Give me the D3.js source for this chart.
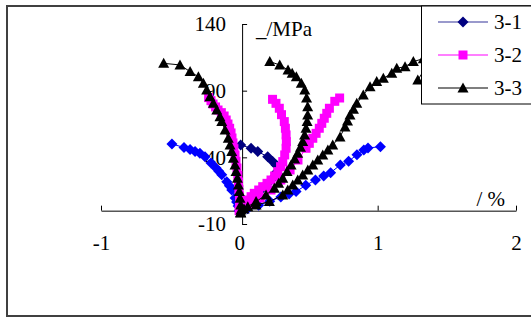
<!DOCTYPE html>
<html>
<head>
<meta charset="utf-8">
<script src="https://cdn.jsdelivr.net/npm/d3@7"></script>
<style>
  html, body { margin: 0; padding: 0; background: #fff; }
  svg { display: block; }
</style>
</head>
<body>
<div id="chart"></div>
<script>
// tick values and names
const xTicks = [-1, 0, 1, 2];
const yTicks = [-10, 40, 90, 140];
const seriesNames = ['3-1', '3-2', '3-3'];

// 3-1 : [strain %, stress MPa]
const s31Lateral = [[0, 0], [-0.009, 3.5], [-0.02, 6.5], [-0.031, 9.5], [-0.055, 15.5], [-0.072, 18.7], [-0.091, 21.7],
  [-0.127, 27], [-0.148, 29.5], [-0.168, 32], [-0.205, 35.8], [-0.248, 40.5], [-0.285, 43], [-0.32, 44.4],
  [-0.356, 45.9], [-0.40, 47.4], [-0.487, 50]];
const s31Volume = [[0, 0], [0.02, 3], [0.06, 7], [0.11, 12], [0.17, 17], [0.23, 23], [0.27, 29],
  [0.265, 34.3], [0.241, 36.8], [0.205, 40.5], [0.133, 44.3], [0.085, 46.8], [0.01, 49.3]];
const s31Axial = [[0, 0], [0.06, 1.5], [0.14, 4], [0.22, 7], [0.30, 10.3], [0.36, 12.5], [0.41, 14.3], [0.48, 19],
  [0.55, 23], [0.61, 26], [0.66, 28.5], [0.73, 34.3], [0.79, 37], [0.85, 42], [0.90, 45.5], [0.93, 47], [1.02, 48]];

// 3-2
const s32Lateral = [[0, 0], [0.001, 5.5], [0.001, 11], [-0.003, 16], [-0.006, 21.5], [-0.011, 26.5], [-0.017, 32],
  [-0.024, 37], [-0.031, 41.8], [-0.039, 46.5], [-0.046, 50.8], [-0.053, 54.5], [-0.06, 58.3], [-0.07, 61.8],
  [-0.082, 65], [-0.095, 68], [-0.11, 71], [-0.13, 73.5], [-0.154, 75.5], [-0.172, 77.8], [-0.19, 80],
  [-0.205, 82.5], [-0.222, 84.8]];
const s32Volume = [[0, 0], [0.025, 4.3], [0.043, 6.2], [0.061, 8], [0.085, 10.5], [0.108, 13], [0.14, 15.5],
  [0.169, 18], [0.2, 20.5], [0.229, 23], [0.255, 26], [0.278, 29.3], [0.298, 33], [0.314, 36.8], [0.328, 41.8],
  [0.338, 46.8], [0.34, 51.8], [0.338, 56.8], [0.333, 61.8], [0.325, 66.8], [0.305, 72], [0.289, 76.8],
  [0.265, 80.5], [0.24, 83.5]];
const s32Axial = [[0, 0], [0.027, 2], [0.077, 5], [0.15, 9.5], [0.229, 15.5], [0.30, 23], [0.367, 30.5],
  [0.424, 38], [0.482, 46.8], [0.506, 50.5], [0.531, 54.3], [0.555, 58], [0.578, 61.8], [0.596, 65.5],
  [0.614, 69.3], [0.632, 73], [0.651, 76.8], [0.69, 82], [0.725, 84.5]];

// 3-3
const s33Lateral = [[0.01, -1.5], [0.01, 4.3], [0.005, 9.3], [0, 14.3], [-0.007, 19.3], [-0.014, 24.3],
  [-0.024, 29.3], [-0.031, 34.3], [-0.043, 39.3], [-0.055, 44.3], [-0.067, 49.3], [-0.08, 54.3],
  [-0.103, 60.5], [-0.127, 66.8], [-0.14, 70.5], [-0.163, 75.5], [-0.188, 80.5], [-0.212, 85.5],
  [-0.236, 90.5], [-0.26, 95.5], [-0.296, 100.5], [-0.356, 104.3], [-0.429, 109.3], [-0.547, 110.5]];
const s33Volume = [[0.01, -1.5], [0.012, 0.5], [0.061, 3], [0.121, 6.8], [0.193, 11.8], [0.253, 16.8],
  [0.284, 20.5], [0.314, 24.3], [0.345, 29.3], [0.374, 34.3], [0.4, 38.8], [0.422, 43], [0.442, 47.5],
  [0.458, 51.8], [0.472, 56.8], [0.482, 61.8], [0.49, 66.8], [0.494, 71.8], [0.494, 78], [0.486, 84.5],
  [0.473, 90.5], [0.448, 95.5], [0.412, 100.5], [0.382, 103], [0.352, 105.5], [0.292, 109.3], [0.22, 111.8]];
const s33Axial = [[0.01, -1.5], [0.034, 1.3], [0.121, 4.3], [0.217, 6.8], [0.314, 11.8], [0.35, 15.5], [0.386, 19.3],
  [0.422, 23], [0.458, 26.8], [0.495, 30.5], [0.531, 34.3], [0.567, 38], [0.603, 41.8], [0.64, 45.5], [0.675, 49.3],
  [0.728, 55.3], [0.764, 62.8], [0.782, 67.3], [0.80, 71.8], [0.825, 76], [0.849, 80.5], [0.896, 86.8], [0.945, 93],
  [0.993, 96.8], [1.041, 99.3], [1.102, 103], [1.138, 106.8], [1.198, 108], [1.258, 111.8], [1.33, 114],
  [1.40, 116], [1.29, 98]];

const series = [
  { name: seriesNames[0], shape: 'diamond', color: '#000080', line: '#35359a', branches: [
    { pts: s31Lateral, color: '#0000ff' }, { pts: s31Volume, color: '#000080' }, { pts: s31Axial, color: '#0000ff' }] },
  { name: seriesNames[1], shape: 'square', color: '#ff00ff', line: '#ff00ff', branches: [
    { pts: s32Lateral, color: '#ff00ff' }, { pts: s32Volume, color: '#ff00ff' }, { pts: s32Axial, color: '#ff00ff' }] },
  { name: seriesNames[2], shape: 'triangle', color: '#000000', line: '#000000', branches: [
    { pts: s33Lateral, color: '#000000' }, { pts: s33Volume, color: '#000000' }, { pts: s33Axial, color: '#000000' }] }
];

const font = "'Liberation Serif', 'Times New Roman', serif";
const yAxisAt = 0.02; // value axis crosses a bit right of zero

const svg = d3.select('#chart')
  .append('svg')
  .attr('width', 531)
  .attr('height', 320);

// outer frame
svg.append('rect')
  .attr('x', 7).attr('y', 6)
  .attr('width', 560).attr('height', 310)
  .attr('fill', '#fff')
  .attr('stroke', '#404040')
  .attr('stroke-width', 2);

const x = d3.scaleLinear().domain([-1, 2]).range([101, 516]);
const y = d3.scaleLinear().domain([-10, 140]).range([224, 24]);

function markerPath(shape) {
  if (shape === 'diamond') return 'M0,-5.5L5.5,0L0,5.5L-5.5,0Z';
  if (shape === 'square') return 'M-4.5,-4.5H4.5V4.5H-4.5Z';
  return 'M0,-5.5L5.5,4.5L-5.5,4.5Z';
}

// plain hyphen minus like the original
const fmt = d => String(d);

// X axis
const xAxis = svg.append('g')
  .attr('transform', `translate(0,${y(0)})`)
  .call(d3.axisBottom(x).tickValues(xTicks).tickSize(-5).tickSizeOuter(0).tickPadding(24).tickFormat(fmt));

// Y axis
const yAxis = svg.append('g')
  .attr('transform', `translate(${x(yAxisAt)},0)`)
  .call(d3.axisLeft(y).tickValues(yTicks).tickSize(-5).tickSizeOuter(0).tickPadding(16).tickFormat(fmt));

[xAxis, yAxis].forEach(g => {
  g.attr('font-family', font).attr('font-size', 21);
  g.selectAll('path, line').attr('stroke', '#000');
  g.selectAll('text').attr('fill', '#000');
});
xAxis.selectAll('text').attr('dy', '0.71em');

// axis titles
svg.append('text')
  .attr('x', 256).attr('y', 36)
  .attr('font-family', font).attr('font-size', 21)
  .text('_/MPa');

svg.append('text')
  .attr('x', 505).attr('y', 206)
  .attr('text-anchor', 'end')
  .attr('font-family', font).attr('font-size', 21)
  .text('/ %');

// data
const line = d3.line().x(d => x(d[0])).y(d => y(d[1]));

series.forEach(s => {
  const g = svg.append('g');
  s.branches.forEach(b => {
    g.append('path')
      .datum(b.pts)
      .attr('fill', 'none')
      .attr('stroke', b.color)
      .attr('stroke-width', 1)
      .attr('d', line);
  });
  s.branches.forEach(b => {
    g.selectAll(null)
      .data(b.pts)
      .enter().append('path')
      .attr('transform', d => `translate(${x(d[0])},${y(d[1])})`)
      .attr('d', markerPath(s.shape))
      .attr('fill', b.color);
  });
});

// Legend
const legend = svg.append('g');
legend.append('rect')
  .attr('x', 421.5).attr('y', 6)
  .attr('width', 140).attr('height', 98)
  .attr('fill', '#fff')
  .attr('stroke', '#000')
  .attr('stroke-width', 1);

series.forEach((s, i) => {
  const ly = 22 + i * 33;
  legend.append('line')
    .attr('x1', 438).attr('x2', 488)
    .attr('y1', ly).attr('y2', ly)
    .attr('stroke', s.line)
    .attr('stroke-width', 1.2);
  legend.append('path')
    .attr('transform', `translate(463,${ly})`)
    .attr('d', markerPath(s.shape))
    .attr('fill', s.color);
  legend.append('text')
    .attr('x', 494).attr('y', ly + 7)
    .attr('font-family', font).attr('font-size', 21)
    .text(s.name);
});
</script>
</body>
</html>
